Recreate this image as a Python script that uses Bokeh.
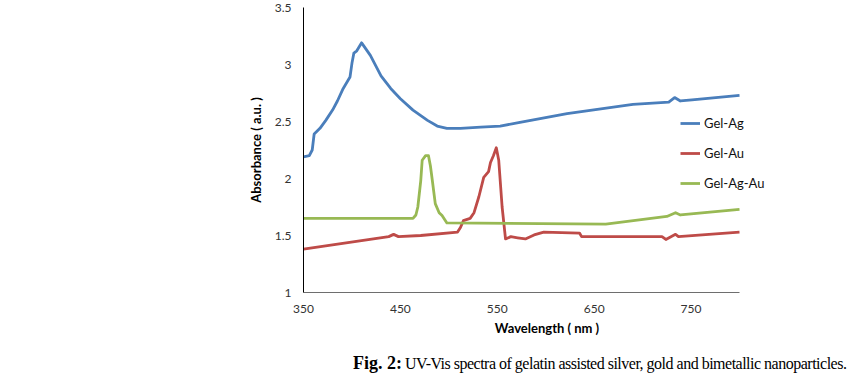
from bokeh.plotting import figure
from bokeh.layouts import column
from bokeh.models import Range1d, FixedTicker, Legend, LegendItem, Div
from bokeh.embed import file_html
from bokeh.resources import INLINE

# ---------------- data ----------------
ag_wl = [350, 356, 359, 361, 367, 373, 380, 385, 391, 398, 400, 402, 405, 410, 419, 430, 440,
         450, 463, 478, 488, 498, 512, 533, 553, 572, 622, 690, 727, 733, 739, 751, 800]
ag_abs = [2.19, 2.20, 2.25, 2.39, 2.44, 2.51, 2.60, 2.68, 2.79, 2.89, 3.01, 3.10, 3.12, 3.19, 3.08, 2.90, 2.79,
          2.70, 2.60, 2.51, 2.46, 2.44, 2.44, 2.45, 2.46, 2.49, 2.57, 2.65, 2.67, 2.71, 2.68, 2.69, 2.73]

au_wl = [350, 438, 443, 448, 471, 509, 512, 515, 522, 526, 531, 536, 541, 543, 546, 549, 551.5,
         555, 558.5, 564, 571, 579, 588, 598, 635, 637, 720, 724, 734, 737, 800]
au_abs = [1.38, 1.49, 1.51, 1.49, 1.50, 1.53, 1.57, 1.63, 1.65, 1.70, 1.84, 2.01, 2.06, 2.14, 2.20, 2.27, 2.16,
          1.75, 1.47, 1.49, 1.48, 1.47, 1.505, 1.53, 1.52, 1.49, 1.49, 1.465, 1.51, 1.49, 1.53]

agau_wl = [350, 463, 466, 468, 471, 472.5, 476, 479, 481, 483, 486, 490, 493, 498, 662, 725, 734, 739, 800]
agau_abs = [1.65, 1.65, 1.68, 1.75, 1.98, 2.16, 2.20, 2.20, 2.11, 1.98, 1.78, 1.70, 1.675, 1.61, 1.60,
            1.667, 1.70, 1.68, 1.73]

series_names = ["Gel-Ag", "Gel-Au", "Gel-Ag-Au"]
series_colors = ["#4A7EBB", "#BE4B48", "#98B954"]

x_ticks = [350, 450, 550, 650, 750]
y_ticks = [1, 1.5, 2, 2.5, 3, 3.5]
y_tick_labels = ["1", "1.5", "2", "2.5", "3", "3.5"]

x_label = "Wavelength ( nm )"
y_label = "Absorbance ( a.u. )"
caption_bold = "Fig. 2:"
caption_rest = "UV-Vis spectra of gelatin assisted silver, gold and bimetallic nanoparticles."

# ---------------- layout constants ----------------
W = 863
MAIN_H = 340
CAP_H = 376 - MAIN_H
LEFT = 303          # frame left edge (px)
AXIS_RIGHT = 739    # where 800 nm sits (px)
FRAME_RIGHT = 790   # frame extends further right so the legend is not clipped
X0, X1 = 350, 800
px_per_nm = (AXIS_RIGHT - LEFT) / (X1 - X0)
x_end = X0 + (FRAME_RIGHT - LEFT) / px_per_nm

FONT = "Lato"

# ---------------- main figure ----------------
p = figure(width=W, height=MAIN_H, output_backend="svg", toolbar_location=None,
           x_range=Range1d(X0, x_end), y_range=Range1d(1, 3.5),
           min_border_left=LEFT, min_border_right=W - FRAME_RIGHT,
           min_border_top=7, min_border_bottom=MAIN_H - 292)
p.outline_line_color = None
p.xgrid.visible = False
p.ygrid.visible = False
p.background_fill_color = "white"
p.border_fill_color = "white"

for ax in (p.xaxis[0], p.yaxis[0]):
    ax.major_tick_in = 0
    ax.major_tick_out = 0
    ax.minor_tick_in = 0
    ax.minor_tick_out = 0
    ax.major_label_text_font = FONT
    ax.major_label_text_font_size = "12px"
    ax.major_label_text_color = "#333333"
    ax.axis_label_text_font = FONT
    ax.axis_label_text_font_size = "13px"
    ax.axis_label_text_font_style = "bold"
    ax.axis_label_text_color = "#000000"

p.xaxis.ticker = FixedTicker(ticks=x_ticks)
p.xaxis.bounds = (X0, X1)
p.yaxis.ticker = FixedTicker(ticks=y_ticks)
p.yaxis.major_label_overrides = {t: l for t, l in zip(y_ticks, y_tick_labels)}
p.yaxis.axis_line_color = "#000000"
p.xaxis.axis_line_color = "#6e6e6e"
p.xaxis.major_label_standoff = 12
p.yaxis.major_label_standoff = 12
p.xaxis.axis_label = x_label
p.yaxis.axis_label = y_label
p.xaxis.axis_label_standoff = 4
p.yaxis.axis_label_standoff = 8

renderers = []
for wl, ab, c in zip([ag_wl, au_wl, agau_wl], [ag_abs, au_abs, agau_abs], series_colors):
    r = p.line(wl, ab, line_color=c, line_width=2.8, line_join="round")
    renderers.append(r)

legend = Legend(items=[LegendItem(label=n, renderers=[r]) for n, r in zip(series_names, renderers)],
                location=(377, 99), padding=0, margin=0, spacing=10,
                label_height=20, glyph_height=20, glyph_width=20, label_standoff=4,
                border_line_color=None, background_fill_alpha=0,
                label_text_font=FONT, label_text_font_size="13px", label_text_color="#111111")
p.add_layout(legend, "center")

# ---------------- caption ----------------
caption_html = (
    '<div style="font-family: \'Liberation Serif\', \'Times New Roman\', serif; '
    'line-height: 20px; color: #000; padding-left: 353px; padding-top: 13px; white-space: nowrap;">'
    f'<b style="font-size: 18px;">{caption_bold}</b> '
    f'<span style="font-size: 16px; letter-spacing: -0.5px;">{caption_rest}</span></div>'
)
cap = Div(text=caption_html, width=W, height=CAP_H, margin=0)

layout = column(p, cap, spacing=0)
open("out.html", "w").write(file_html(layout, INLINE))
